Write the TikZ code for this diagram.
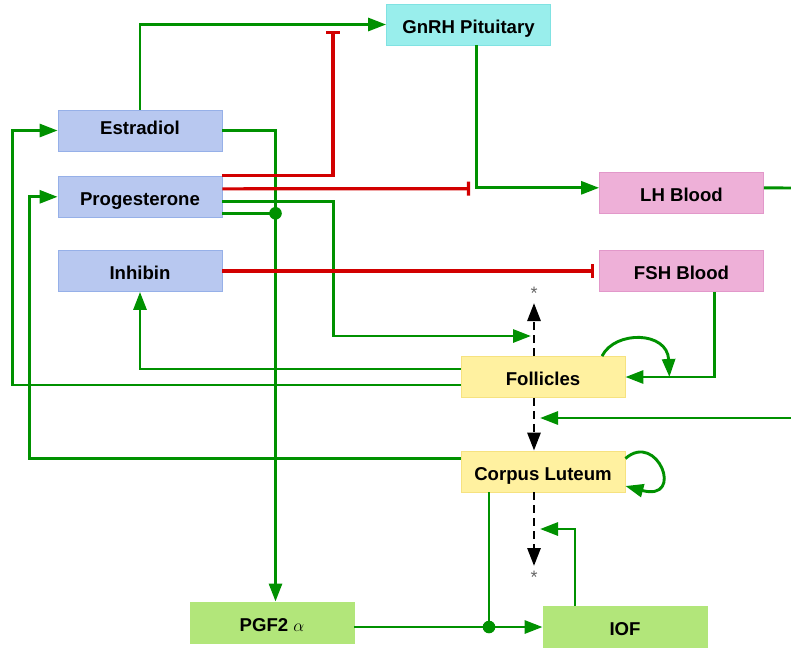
\documentclass[tikz,border=0pt]{standalone}
\usepackage{fontspec}
\setmainfont{Liberation Sans}
\usetikzlibrary{calc, positioning, arrows.meta}
\definecolor{hormblue}{RGB}{184,200,240}
\definecolor{hormblueD}{RGB}{150,176,232}
\definecolor{gnrhcyan}{RGB}{153,238,236}
\definecolor{gnrhcyanD}{RGB}{128,226,226}
\definecolor{bloodpink}{RGB}{238,176,216}
\definecolor{bloodpinkD}{RGB}{226,152,202}
\definecolor{ovaryyellow}{RGB}{255,241,160}
\definecolor{ovaryyellowD}{RGB}{246,226,128}
\definecolor{uterusgreen}{RGB}{178,230,122}
\definecolor{actgreen}{RGB}{0,145,0}
\definecolor{inhred}{RGB}{210,0,0}

\begin{document}
\begin{tikzpicture}[x=1pt, y=-1pt, line width=2.9pt, > = {Triangle[length=18pt,width=13pt]},
    block/.style = {draw, line width=0.8pt, minimum width=164pt, minimum height=41pt, inner sep=0pt, text height=17.5pt, text depth=0pt, font=\fontsize{18.6}{22}\selectfont\bfseries},
    act/.style = {draw=actgreen, ->},
    inh/.style = {draw=inhred, line width=3.1pt, -{Bar[width=14pt]}},
    seq/.style = {draw=black, dash pattern=on 8pt off 5pt, ->},
    star/.style = {inner sep=0pt, text=black!60, font=\fontsize{18}{18}\selectfont}]
    \useasboundingbox (0,0) rectangle (791,649);
    % boxes
    \node[block, fill=gnrhcyan, draw=gnrhcyanD] (gnrh) at (468.5,24.5) {GnRH Pituitary};
    \node[block, fill=hormblue, draw=hormblueD, text height=8.5pt] (estr) at (140,130.5) {Estradiol};
    \node[block, fill=hormblue, draw=hormblueD] (prog) at (140,196.8) {Progesterone};
    \node[block, fill=hormblue, draw=hormblueD] (inhib) at (140,271) {Inhibin};
    \node[block, fill=bloodpink, draw=bloodpinkD] (lh) at (681.5,192.8) {LH Blood};
    \node[block, fill=bloodpink, draw=bloodpinkD] (fsh) at (681.5,271) {FSH Blood};
    \node[block, fill=ovaryyellow, draw=ovaryyellowD] (foll) at (543,377) {Follicles};
    \node[block, fill=ovaryyellow, draw=ovaryyellowD] (cl) at (543,471.5) {Corpus Luteum};
    \node[block, fill=uterusgreen, draw=uterusgreen] (pgf) at (272,622.4) {PGF2 $\alpha$};
    \node[block, fill=uterusgreen, draw=uterusgreen] (iof) at (625,627) {IOF};
    \node[star] (startop) at (534,293) {*};
    \node[star] (starbot) at (534,577) {*};
    % free ends
    \coordinate (gnrhbar) at (333,31);
    \coordinate (lhbar) at (470,188.7);
    \coordinate (lhout) at (791,188);
    \coordinate (rightin) at (791,418);
    \coordinate (follin) at (531,336);
    \coordinate (clin) at (540,418);
    \coordinate (iofin) at (540,529);
    \coordinate (progdot) at (275.5,213.3);
    \coordinate (cldot) at (489,627);
    % estradiol
    \draw[act] (estr.north) |- (gnrh.west);
    \draw[act] (estr.east) -| ([xshift=3.5pt]pgf.north);
    % progesterone
    \draw[inh] (prog.north east) -| (gnrhbar);
    \draw[inh] ([yshift=8pt]prog.east) -- (lhbar);
    \draw[act] ([yshift=-4.3pt]prog.east) -- ++(111,0) |- (follin);
    \draw[act, -] ([yshift=-16.5pt]prog.east) -- (progdot);
    \fill[actgreen] (progdot) circle (6.3pt);
    % inhibin, pituitary, blood
    \draw[inh, shorten >=5pt] (inhib.east) -- (fsh.west);
    \draw[act] ([xshift=8pt]gnrh.south) |- ([yshift=5pt]lh.west);
    \draw[act, -] ([yshift=5pt]lh.east) -- (lhout);
    \draw[act] ([xshift=33pt]fsh.south) |- (foll.east);
    % follicles
    \draw[act] ([xshift=59pt]foll.north) .. controls +(13,-26) and +(-2,-46) .. ([xshift=44pt]foll.east);
    \draw[act] ([yshift=8pt]foll.west) -| (inhib.south);
    \draw[act] ([yshift=-8pt]foll.west) -- ++(-448,0) |- (estr.west);
    \draw[act] (rightin) -- (clin);
    % corpus luteum
    \draw[act] ([yshift=13pt]cl.west) -- ++(-431.5,0) |- (prog.west);
    \draw[act] ([yshift=13pt]cl.east) .. controls +(32,-28) and +(60,16) .. ([yshift=-14.5pt]cl.east);
    \draw[act, -] ([xshift=-54pt]cl.south) -- (cldot);
    \draw[act] (pgf.east |- iof.west) -- (iof.west);
    \fill[actgreen] (cldot) circle (6.3pt);
    \draw[act] ([xshift=-50pt]iof.north) |- (iofin);
    % stages
    \draw[seq] ([xshift=-9pt]foll.north) -- ([yshift=-10pt]startop.center);
    \draw[seq] ([xshift=-9pt]foll.south) -- ([xshift=-9pt]cl.north);
    \draw[seq] ([xshift=-9pt]cl.south) -- ([yshift=11pt]starbot.center);
\end{tikzpicture}
\end{document}
